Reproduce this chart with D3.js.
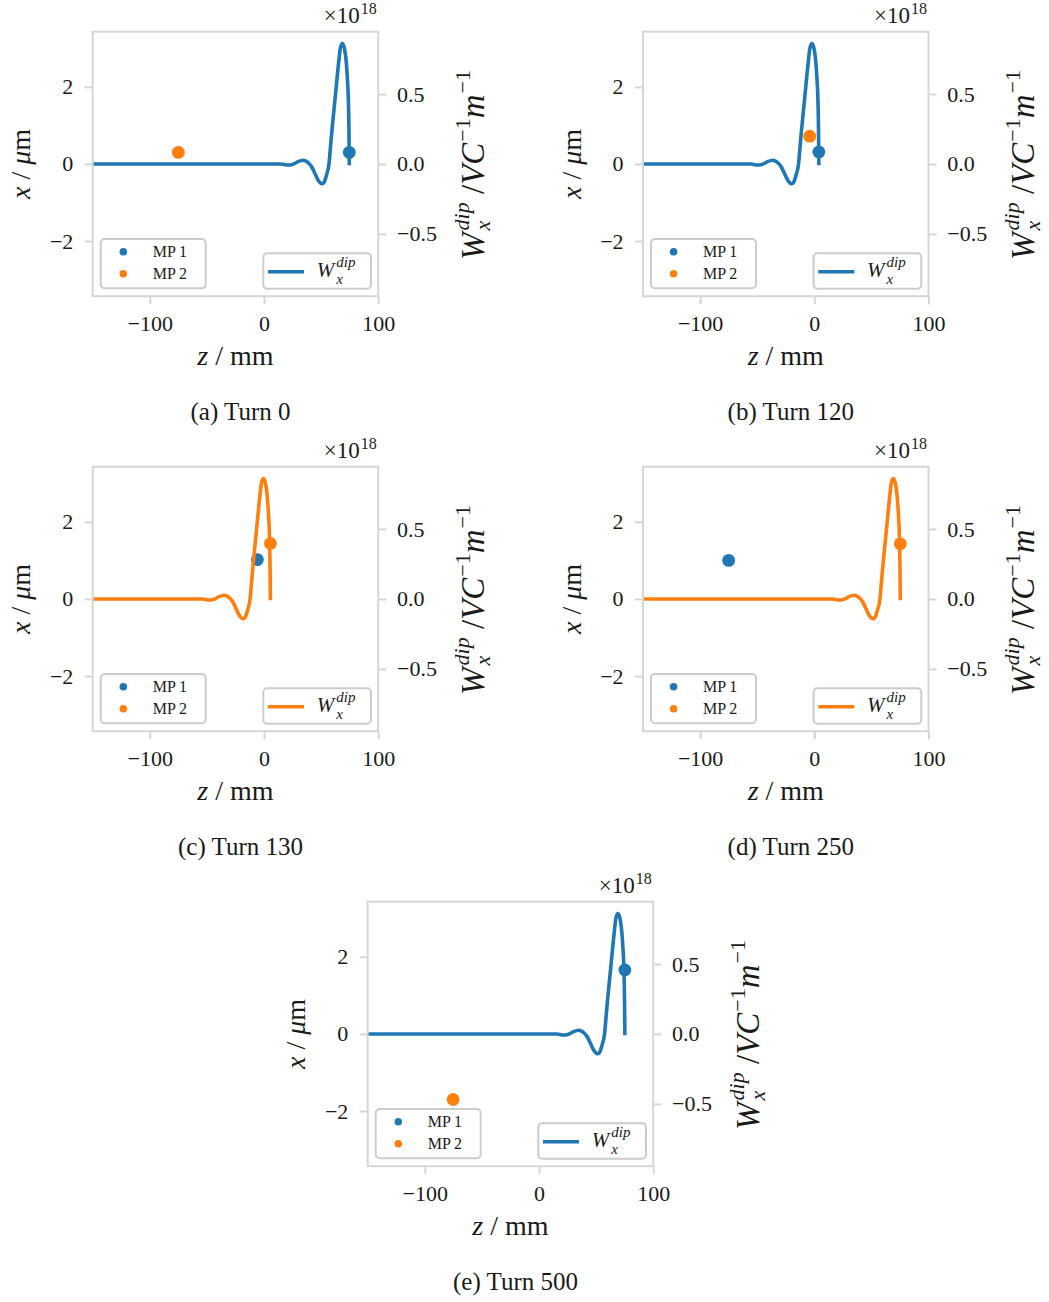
<!DOCTYPE html>
<html>
<head>
<meta charset="utf-8">
<script src="https://cdn.jsdelivr.net/npm/d3@7"></script>
<style>
  html, body { margin: 0; padding: 0; background: #fff; }
  svg { display: block; }
  svg text { font-family: "Liberation Serif", "DejaVu Serif", serif !important; fill: #1a1a1a; }
</style>
</head>
<body>
<svg id="chart" width="1049" height="1302"></svg>
<script>
// ---------------- DATA ----------------
const captions = ["(a) Turn 0", "(b) Turn 120", "(c) Turn 130", "(d) Turn 250", "(e) Turn 500"];
// macro-particle positions: z in mm, x in µm
const mp1Z = [74.7, 4.0, -5.8, -75.0, 75.2];
const mp1X = [0.30, 0.31, 1.02, 1.00, 1.66];
const mp2Z = [-75.0, -4.0, 5.6, 75.3, -75.2];
const mp2X = [0.30, 0.72, 1.44, 1.43, -1.70];
// which macro-particle drives the plotted wake in each panel
const wakeSource = ["MP1", "MP1", "MP2", "MP2", "MP1"];
// wake function shape: offset from the driving particle (mm) and value (×1e18 V/C/m)
const wakeOffset = [-60, -57, -54, -50, -46, -43, -40.5, -38, -35.5, -33, -30, -27, -25, -23.7, -22, -20, -17.8,
                    -16.5, -15.2, -12.3, -9.4, -7.8, -6.1, -4.4, -2.6, -1.6, -0.9, -0.3, 0];
const wakeValue  = [0, -0.004, -0.008, -0.004, 0.012, 0.022, 0.026, 0.02, 0.005, -0.02, -0.07, -0.12, -0.138, -0.142,
                    -0.13, -0.08, 0.0, 0.12, 0.24, 0.48, 0.72, 0.83, 0.86, 0.83, 0.72, 0.60, 0.48, 0.24, -0.01];
const zStart = -150;
const zDomain = [-150, 100];
const xDomain = [-3.43, 3.43];
const wDomain = [-0.945, 0.945];
const zTicks = [-100, 0, 100];
const xTicks = [-2, 0, 2];
const wTicks = [-0.5, 0.0, 0.5];
const mpLabels = ["MP\u20091", "MP\u20092"];

// ---------------- LAYOUT ----------------
const C1 = "#1f77b4", C2 = "#ff7f0e";
const SPINE = "#d4d8d2";
const W = 285.5, H = 264.5;
const panelPos = [[92.7, 31.7], [643, 31.7], [92.7, 466.7], [643, 466.7], [367.7, 901.7]];
const svg = d3.select("#chart");
const minus = s => s.replace("-", "\u2212");

// math-like text row: items placed sequentially; item.stack puts it at the same x as the previous item
function mathRow(g, items, anchor) {
  const row = g.append("g");
  let cursor = 0, prevX = 0, prevEnd = 0;
  items.forEach(it => {
    const x = (it.stack ? prevX : cursor) + (it.gap || 0);
    const t = row.append("text")
      .attr("x", x).attr("y", it.dy || 0)
      .style("font-size", it.size + "px")
      .style("font-style", it.italic ? "italic" : "normal")
      .attr("xml:space", "preserve")
      .text(it.t);
    const w = t.node().getComputedTextLength();
    if (it.stack) { cursor = Math.max(prevEnd, x + w); }
    else { cursor = x + w; }
    prevX = x; prevEnd = x + w;
  });
  const total = cursor;
  if (anchor === "middle") row.attr("transform", `translate(${-total / 2},0)`);
  else if (anchor === "end") row.attr("transform", `translate(${-total},0)`);
  return row;
}

function styleAxis(a) {
  a.attr("font-family", null).attr("font-size", null);
  a.select(".domain").remove();
  a.selectAll(".tick line").attr("stroke", SPINE).attr("stroke-width", 2);
  a.selectAll(".tick text").style("font-size", "22px");
}

panelPos.forEach((pos, i) => {
  const g = svg.append("g").attr("transform", `translate(${pos[0]},${pos[1]})`);
  const zS = d3.scaleLinear().domain(zDomain).range([0, W]);
  const xS = d3.scaleLinear().domain(xDomain).range([H, 0]);
  const wS = d3.scaleLinear().domain(wDomain).range([H, 0]);

  const clipId = "clip" + i;
  g.append("clipPath").attr("id", clipId).append("rect").attr("width", W).attr("height", H);

  // axes
  const ax = g.append("g").attr("transform", `translate(0,${H})`)
    .call(d3.axisBottom(zS).tickValues(zTicks).tickSize(8).tickPadding(10.8).tickFormat(d => minus(String(d))));
  styleAxis(ax);
  const ay = g.append("g")
    .call(d3.axisLeft(xS).tickValues(xTicks).tickSize(8).tickPadding(11.4).tickFormat(d => minus(String(d))));
  styleAxis(ay);
  const ar = g.append("g").attr("transform", `translate(${W},0)`)
    .call(d3.axisRight(wS).tickValues(wTicks).tickSize(8).tickPadding(10.8).tickFormat(d => minus(d3.format(".1f")(d))));
  styleAxis(ar);

  // macro-particles (primary axis)
  const pts = [
    { z: mp1Z[i], x: mp1X[i], c: C1 },
    { z: mp2Z[i], x: mp2X[i], c: C2 }
  ];
  g.append("g").attr("clip-path", `url(#${clipId})`).selectAll("circle").data(pts).join("circle")
    .attr("cx", d => zS(d.z)).attr("cy", d => xS(d.x)).attr("r", 6.4).attr("fill", d => d.c);

  // legend 1
  const l1 = g.append("g").attr("transform", "translate(8,207.3)");
  l1.append("rect").attr("width", 105).attr("height", 49.3).attr("rx", 4)
    .attr("fill", "white").attr("fill-opacity", 0.8).attr("stroke", "#cccccc").attr("stroke-width", 2);
  [C1, C2].forEach((c, k) => {
    l1.append("circle").attr("cx", 22.6).attr("cy", 12.7 + 22 * k).attr("r", 3.8).attr("fill", c);
    l1.append("text").attr("x", 52).attr("y", 18 + 22 * k).style("font-size", "16px").text(mpLabels[k]);
  });

  // wake (secondary axis)
  const src = wakeSource[i] === "MP1" ? 0 : 1;
  const zEnd = pts[src].z;
  const wakePts = [[zStart, 0]].concat(wakeOffset.map((o, k) => [zEnd + o, wakeValue[k]]));
  const wc = pts[src].c;
  g.append("path").attr("clip-path", `url(#${clipId})`)
    .datum(wakePts)
    .attr("fill", "none").attr("stroke", wc).attr("stroke-width", 3.6)
    .attr("stroke-linejoin", "round")
    .attr("d", d3.line().x(d => zS(d[0])).y(d => wS(d[1])).curve(d3.curveMonotoneX));

  // legend 2
  const l2 = g.append("g").attr("transform", "translate(170.6,221.6)");
  l2.append("rect").attr("width", 107.7).attr("height", 35.4).attr("rx", 4)
    .attr("fill", "white").attr("fill-opacity", 0.8).attr("stroke", "#cccccc").attr("stroke-width", 2);
  l2.append("line").attr("x1", 4.7).attr("x2", 40.7).attr("y1", 18.4).attr("y2", 18.4)
    .attr("stroke", wc).attr("stroke-width", 3.6);
  const lw = l2.append("g").attr("transform", "translate(53.5,23.5)");
  mathRow(lw, [
    { t: "W", size: 21, italic: true },
    { t: "dip", size: 15, italic: true, dy: -10, gap: 2 },
    { t: "x", size: 15, italic: true, dy: 7, stack: true }
  ], "start");

  // frame (spines)
  g.append("rect").attr("width", W).attr("height", H).attr("fill", "none")
    .attr("stroke", SPINE).attr("stroke-width", 2);

  // offset text ×10^18
  const off = g.append("g").attr("transform", `translate(${W - 1.5},-8.7)`);
  mathRow(off, [
    { t: "\u00d710", size: 23 },
    { t: "18", size: 16, dy: -9, gap: 1 }
  ], "end");

  // x label
  const xl = g.append("g").attr("transform", `translate(${W / 2},333.3)`);
  mathRow(xl, [
    { t: "z", size: 28, italic: true },
    { t: " / mm", size: 28 }
  ], "middle");

  // left y label
  const yl = g.append("g").attr("transform", `translate(-62.5,${H / 2}) rotate(-90)`);
  mathRow(yl, [
    { t: "x", size: 28, italic: true },
    { t: " / ", size: 28 },
    { t: "\u03bc", size: 28, italic: true },
    { t: "m", size: 28 }
  ], "middle");

  // right y label
  const rl = g.append("g").attr("transform", `translate(391,${H / 2 + 1}) rotate(-90)`);
  mathRow(rl, [
    { t: "W", size: 33, italic: true },
    { t: "dip", size: 22, italic: true, dy: -15, gap: 2 },
    { t: "x", size: 22, italic: true, dy: 6, stack: true },
    { t: " /", size: 33 },
    { t: "VC", size: 33, italic: true },
    { t: "\u22121", size: 22, dy: -14, gap: 1 },
    { t: "m", size: 33, italic: true },
    { t: "\u22121", size: 22, dy: -14, gap: 1 }
  ], "middle");

  // caption
  g.append("text").attr("x", 147.8).attr("y", 388.3).attr("text-anchor", "middle")
    .style("font-size", "25px").text(captions[i]);
});
</script>
</body>
</html>
